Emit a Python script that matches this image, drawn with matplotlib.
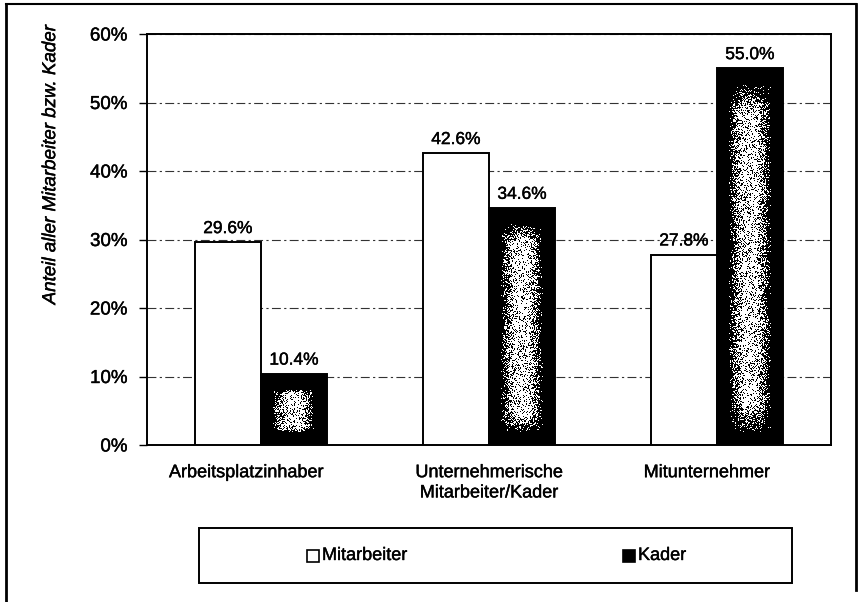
import numpy as np
import matplotlib.pyplot as plt
import matplotlib.patheffects as pe
from matplotlib.patches import Rectangle
from matplotlib.lines import Line2D

plt.rcParams['font.family'] = ['Liberation Sans', 'DejaVu Sans']

categories = ['Arbeitsplatzinhaber', 'Unternehmerische\nMitarbeiter/Kader', 'Mitunternehmer']
mitarbeiter = [29.6, 42.6, 27.8]
kader = [10.4, 34.6, 55.0]
yticks = [0, 10, 20, 30, 40, 50, 60]

heavy = [pe.withStroke(linewidth=0.3, foreground='black')]

fig = plt.figure(figsize=(8.58, 6.02), dpi=100)
ax = fig.add_axes([0.1713, 0.2608, 0.7972, 0.6827])

x = np.arange(len(categories))
w = 0.29
b1 = ax.bar(x - w / 2, mitarbeiter, w, color='white', edgecolor='black', linewidth=1.4, zorder=3)
b2 = ax.bar(x + w / 2, kader, w, color='black', edgecolor='black', linewidth=1.4, zorder=3)

# grainy fill inside the dark bars
rng = np.random.default_rng(7)
for xi, v in zip(x + w / 2, kader):
    x0, x1 = xi - w / 2 + 0.05, xi + w / 2 - 0.05
    y0, y1 = 1.8, v - 2.2
    nx, ny = 48, max(int((y1 - y0) * 6.85), 10)
    gx = np.minimum(np.linspace(0, 1, nx), np.linspace(1, 0, nx)) * 2
    gy = np.minimum(np.linspace(0, 1, ny), np.linspace(1, 0, ny)) * 2
    p = np.outer(np.clip(gy * 6, 0, 1), np.clip(gx * 1.5, 0, 1)) * 0.8
    img = (rng.random((ny, nx)) < p).astype(float)
    ax.imshow(img, cmap='gray', vmin=0, vmax=1, extent=[x0, x1, y0, y1],
              aspect='auto', interpolation='nearest', zorder=4)

for xi, v in zip(x - w / 2, mitarbeiter):
    ax.text(xi, v + 0.9, f'{v:.1f}%', ha='center', va='bottom', fontsize=12.5, path_effects=heavy)
for xi, v in zip(x + w / 2, kader):
    ax.text(xi, v + 0.9, f'{v:.1f}%', ha='center', va='bottom', fontsize=12.5, path_effects=heavy)

ax.set_xlim(-0.5, 2.5)
ax.set_ylim(0, 60)
ax.set_yticks(yticks)
ax.set_yticklabels([f'{t}%' for t in yticks], fontsize=13.5, path_effects=heavy)
ax.set_xticks([])
for xi, dx, name in zip(x, [-0.065, 0.0, -0.045], categories):
    ax.text(xi + dx, -2.8, name, ha='center', va='top', fontsize=13,
            linespacing=1.25, path_effects=heavy)
ax.tick_params(axis='y', length=6, width=1, pad=8)
ax.yaxis.grid(True, color='#333333', linestyle=(0, (8, 3, 2, 3)), linewidth=0.8, zorder=0)
ax.set_axisbelow(True)
for s in ax.spines.values():
    s.set_linewidth(1.4)

fig.text(0.059, 0.726, 'Anteil aller Mitarbeiter bzw. Kader', rotation=90,
         ha='center', va='center', fontsize=13.5, style='italic', path_effects=heavy)

# legend box
lx0, ly0 = 199 / 858, 1 - 583 / 602
fig.add_artist(Rectangle((lx0, ly0), 593 / 858, 55 / 602, transform=fig.transFigure,
                         facecolor='white', edgecolor='black', linewidth=1.4))
ly = ly0 + 27.5 / 602
fig.add_artist(Rectangle((307 / 858, ly - 6 / 602), 12 / 858, 12 / 602, transform=fig.transFigure,
                         facecolor='white', edgecolor='black', linewidth=1.2))
fig.text(322 / 858, ly, 'Mitarbeiter', ha='left', va='center', fontsize=13, path_effects=heavy)
fig.add_artist(Rectangle((623 / 858, ly - 6 / 602), 12 / 858, 12 / 602, transform=fig.transFigure,
                         facecolor='black', edgecolor='black', linewidth=1.2))
fig.text(638 / 858, ly, 'Kader', ha='left', va='center', fontsize=13, path_effects=heavy)

# outer frame
fig.add_artist(Line2D([6 / 858, 6 / 858], [0, 1 - 4 / 602], transform=fig.transFigure, color='black', lw=2))
fig.add_artist(Line2D([6 / 858, 856 / 858], [1 - 4 / 602, 1 - 4 / 602], transform=fig.transFigure, color='black', lw=1.5))
fig.add_artist(Line2D([856 / 858, 856 / 858], [0.02, 1 - 4 / 602], transform=fig.transFigure, color='black', lw=2))

fig.savefig('out.png', dpi=100)
